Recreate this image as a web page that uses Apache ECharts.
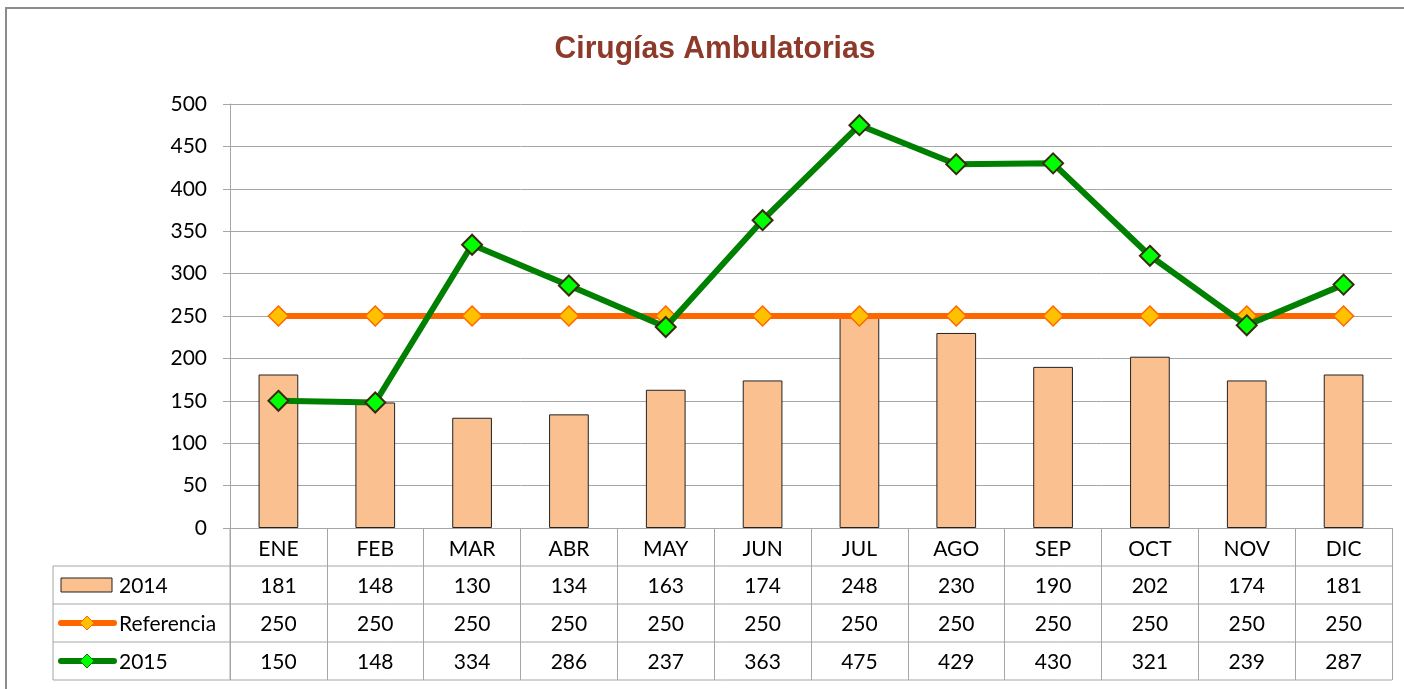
<!DOCTYPE html>
<html><head><meta charset="utf-8">
<script src="https://cdn.jsdelivr.net/npm/echarts@6/dist/echarts.min.js"></script>
<style>html,body{margin:0;padding:0;background:#fff}#c{width:1404px;height:689px}</style>
</head><body><div id="c"></div>
<script>
const titleText = 'Cirugías Ambulatorias';
const categories = ['ENE','FEB','MAR','ABR','MAY','JUN','JUL','AGO','SEP','OCT','NOV','DIC'];
const seriesNames = ['2014','Referencia','2015'];
const values2014 = [181,148,130,134,163,174,248,230,190,202,174,181];
const valuesRef = [250,250,250,250,250,250,250,250,250,250,250,250];
const values2015 = [150,148,334,286,237,363,475,429,430,321,239,287];
const yMin = 0, yMax = 500, yInterval = 50;

const FONT = 'Lato';
const GRID_COLOR = '#A6A6A6';
const chart = echarts.init(document.getElementById('c'), null, {renderer:'canvas'});

const option = {
  animation: false,
  backgroundColor: '#fff',
  grid: {left: 230, right: 12, top: 104, bottom: 161, containLabel: false},
  xAxis: {
    type: 'category', data: categories, boundaryGap: true,
    axisLine: {show: true, lineStyle: {color: GRID_COLOR, width: 1}},
    axisTick: {show: true, length: 152, alignWithLabel: false, lineStyle: {color: GRID_COLOR}},
    axisLabel: {show: true, margin: 11, fontFamily: FONT, fontSize: 21, color: '#000'}
  },
  yAxis: {
    type: 'value', min: yMin, max: yMax, interval: yInterval,
    axisLine: {show: true, lineStyle: {color: GRID_COLOR, width: 1}},
    axisTick: {show: true, length: 7, lineStyle: {color: GRID_COLOR}},
    axisLabel: {margin: 23, fontFamily: FONT, fontSize: 21, color: '#000'},
    splitLine: {show: true, lineStyle: {color: GRID_COLOR, width: 1}}
  },
  series: [
    {name: seriesNames[0], type: 'bar', data: values2014, barWidth: '41%',
     itemStyle: {color: '#FAC090', borderColor: '#222', borderWidth: 1}, z: 2},
    {name: seriesNames[1], type: 'line', data: valuesRef, symbol: 'diamond', symbolSize: 20,
     lineStyle: {color: '#FF6600', width: 6}, itemStyle: {color: '#FFC000', borderColor: '#FF6600', borderWidth: 1.5}, z: 3},
    {name: seriesNames[2], type: 'line', data: values2015, symbol: 'diamond', symbolSize: 20,
     lineStyle: {color: '#008000', width: 6}, itemStyle: {color: '#00FF00', borderColor: '#3A2A10', borderWidth: 2}, z: 4}
  ]
};
chart.setOption(option);

// Data table built from the arrays, positioned from the chart's own axes
const rect = chart.getModel().getComponent('grid').coordinateSystem.getRect();
const x0 = rect.x, x1 = rect.x + rect.width, yAxisBottom = rect.y + rect.height;
const rowH = 38, tableLeft = 53;
const rowsTop = yAxisBottom + rowH;
const rowsData = [values2014, valuesRef, values2015];
const g = [];
// outer chart border
g.push({type:'rect', shape:{x:6, y:8, width:1420, height:720}, style:{fill:'none', stroke:'#8C8C8C', lineWidth:2}, silent:true});
// title
g.push({type:'text', x:715, y:49, scaleX:0.97, style:{text:titleText, fontFamily:'Liberation Sans', fontWeight:'bold', fontSize:31, fill:'#8E3A2A', align:'center', verticalAlign:'middle'}, z:10});
// horizontal lines
for (let r = 0; r <= 3; r++) {
  const y = rowsTop + r*rowH;
  g.push({type:'line', shape:{x1:tableLeft, y1:y, x2:x1, y2:y}, style:{stroke:GRID_COLOR, lineWidth:1}, z:10});
}
// vertical lines
g.push({type:'line', shape:{x1:tableLeft, y1:rowsTop, x2:tableLeft, y2:rowsTop+3*rowH}, style:{stroke:GRID_COLOR, lineWidth:1}, z:10});
g.push({type:'line', shape:{x1:x0, y1:yAxisBottom, x2:x0, y2:rowsTop+3*rowH}, style:{stroke:GRID_COLOR, lineWidth:1}, z:10});
// values
rowsData.forEach((arr, r) => {
  const cy = rowsTop + r*rowH + rowH/2 + 1;
  arr.forEach((v, i) => {
    const cx = chart.convertToPixel({xAxisIndex:0}, categories[i]);
    g.push({type:'text', x:cx, y:cy, style:{text:String(v), fontFamily:FONT, fontSize:21, fill:'#000', align:'center', verticalAlign:'middle'}, z:10});
  });
});
// legend keys
const keyCx = 87;
let cy = rowsTop + rowH/2;
g.push({type:'rect', shape:{x:61, y:cy-7, width:51, height:14}, style:{fill:'#FAC090', stroke:'#222', lineWidth:1}, z:10});
g.push({type:'text', x:119, y:cy+1, style:{text:seriesNames[0], fontFamily:FONT, fontSize:21, fill:'#000', align:'left', verticalAlign:'middle'}, z:10});
const lineKeys = [['#FF6600','#FFC000','#FF6600'],['#008000','#00FF00','#008000']];
[1,2].forEach((r, k) => {
  const yy = rowsTop + r*rowH + rowH/2;
  g.push({type:'line', shape:{x1:61, y1:yy, x2:114, y2:yy}, style:{stroke:lineKeys[k][0], lineWidth:6, lineCap:'round'}, z:10});
  g.push({type:'polygon', shape:{points:[[keyCx,yy-7],[keyCx+7,yy],[keyCx,yy+7],[keyCx-7,yy]]}, style:{fill:lineKeys[k][1], stroke:lineKeys[k][2], lineWidth:1}, z:11});
  g.push({type:'text', x:119, y:yy+1, style:{text:seriesNames[r], fontFamily:FONT, fontSize:21, fill:'#000', align:'left', verticalAlign:'middle'}, z:10});
});
chart.setOption({graphic: g});
</script></body></html>
